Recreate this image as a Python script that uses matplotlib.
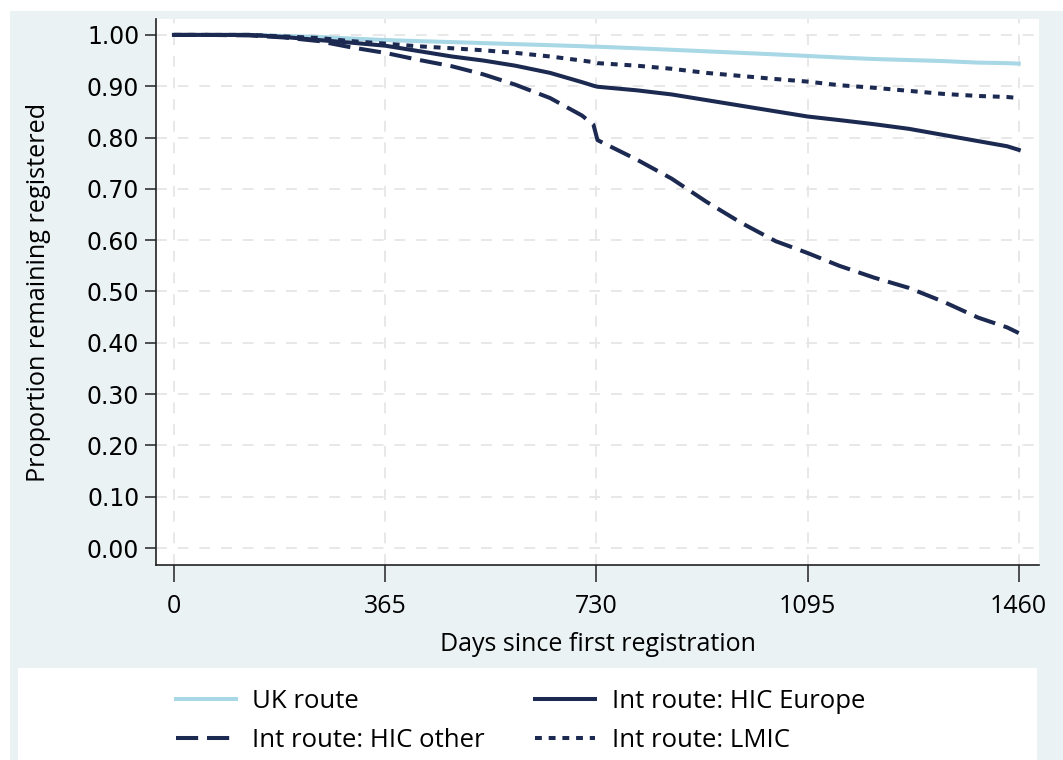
import matplotlib
matplotlib.use("Agg")
import matplotlib.pyplot as plt
from matplotlib.patches import Rectangle

days = [0, 60, 130, 190, 250, 305, 365, 420, 480, 535, 590, 650, 705, 725, 732,
        800, 860, 920, 980, 1040, 1095, 1150, 1210, 1270, 1330, 1390, 1440, 1460]

uk_route = [1.000, 1.000, 1.000, 0.998, 0.996, 0.993, 0.990, 0.988, 0.986, 0.984, 0.982,
            0.980, 0.978, 0.977, 0.977, 0.974, 0.971, 0.968, 0.965, 0.962, 0.959,
            0.956, 0.953, 0.951, 0.949, 0.946, 0.945, 0.944]
hic_europe = [1.000, 1.000, 1.000, 0.996, 0.990, 0.985, 0.979, 0.969, 0.958, 0.950, 0.940,
              0.926, 0.908, 0.901, 0.899, 0.892, 0.884, 0.873, 0.862, 0.851, 0.841,
              0.834, 0.826, 0.817, 0.805, 0.793, 0.783, 0.776]
hic_other = [1.000, 1.000, 0.999, 0.995, 0.988, 0.976, 0.965, 0.952, 0.939, 0.923, 0.903,
             0.877, 0.843, 0.825, 0.795, 0.757, 0.720, 0.675, 0.634, 0.598, 0.575,
             0.550, 0.527, 0.507, 0.480, 0.449, 0.430, 0.419]
lmic = [1.000, 1.000, 1.000, 0.997, 0.994, 0.988, 0.983, 0.978, 0.974, 0.970, 0.965,
        0.958, 0.950, 0.947, 0.945, 0.940, 0.934, 0.926, 0.920, 0.914, 0.909,
        0.902, 0.897, 0.891, 0.885, 0.881, 0.879, 0.877]

x_ticks = [0, 365, 730, 1095, 1460]
y_ticks = [0.0, 0.1, 0.2, 0.3, 0.4, 0.5, 0.6, 0.7, 0.8, 0.9, 1.0]
labels = ["UK route", "Int route: HIC Europe", "Int route: HIC other", "Int route: LMIC"]

NAVY = "#1c2951"
LTBLUE = "#a8d7e6"
BG = "#eaf2f3"
SANS = ["Open Sans", "DejaVu Sans"]

W, H = 1063, 760
fig = plt.figure(figsize=(W / 100, H / 100), dpi=100)
fig.patch.set_facecolor("white")
fig.add_artist(Rectangle((10 / W, 0), 1 - 10 / W, (H - 11) / H, transform=fig.transFigure,
                         facecolor=BG, edgecolor="none", zorder=0))
fig.add_artist(Rectangle((18 / W, 0), (1037 - 18) / W, (H - 668) / H, transform=fig.transFigure,
                         facecolor="white", edgecolor="none", zorder=1))

ax = fig.add_axes([156 / W, (H - 565) / H, (1039 - 156) / W, (565 - 19) / H])
ax.set_facecolor("white")
ax.set_xlim(-31, 1495)
ax.set_ylim(-0.033, 1.031)

lw = 2.9
l_uk, = ax.plot(days, uk_route, color=LTBLUE, lw=lw, zorder=3)
l_eu, = ax.plot(days, hic_europe, color=NAVY, lw=lw, zorder=4)
l_ot, = ax.plot(days, hic_other, color=NAVY, lw=lw, dashes=(5.5, 2.2), zorder=4)
l_lm, = ax.plot(days, lmic, color=NAVY, lw=lw, dashes=(1.7, 1.7), zorder=4)

ax.set_xticks(x_ticks)
ax.set_xticklabels([str(v) for v in x_ticks], family=SANS, fontsize=18)
ax.set_yticks(y_ticks)
ax.set_yticklabels([f"{v:.2f}" for v in y_ticks], family="DejaVu Sans", fontsize=17)
ax.grid(True, color="#e6e6e6", lw=1.3, ls=(0, (6, 6)))
ax.set_axisbelow(True)
for s in ["top", "right"]:
    ax.spines[s].set_visible(False)
for s in ["left", "bottom"]:
    ax.spines[s].set_color("#222222")
    ax.spines[s].set_linewidth(1.2)
ax.tick_params(axis="y", length=8, width=1.2, color="#333333", pad=4)
ax.tick_params(axis="x", length=12, width=1.2, color="#333333", pad=9)

ax.set_ylabel("Proportion remaining registered", family=SANS, fontsize=18.2, labelpad=26)
ax.set_xlabel("Days since first registration", family=SANS, fontsize=18, labelpad=9)

handles = [l_uk, l_ot, l_eu, l_lm]
hlabels = [labels[0], labels[2], labels[1], labels[3]]
leg = fig.legend(handles, hlabels, ncol=2, loc="center", bbox_to_anchor=(0.4897, 0.0513),
                 frameon=False, prop={"family": SANS, "size": 18.5},
                 handlelength=2.33, handletextpad=0.66, columnspacing=1.95, labelspacing=0.52)
leg.set_zorder(5)

fig.savefig("out.png", dpi=100, facecolor=fig.get_facecolor())
